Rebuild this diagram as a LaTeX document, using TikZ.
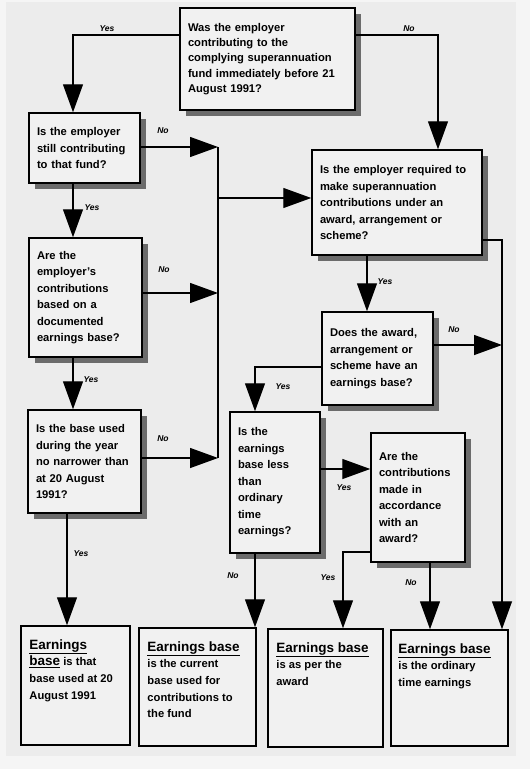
\documentclass[tikz,border=0pt]{standalone}
\usepackage{fontspec}
\setmainfont{Liberation Sans}
\usetikzlibrary{arrows.meta,shadows,calc}
\definecolor{pagebg}{HTML}{ECECEC}
\definecolor{boxbg}{HTML}{F1F1F1}
\newcommand\headsz{\fontsize{13.5}{16.6}\selectfont}
\begin{document}
\begin{tikzpicture}[x=1pt,y=-1pt,
 qbox/.style={draw=black,line width=1.5pt,fill=boxbg,inner xsep=8pt,inner ysep=4pt,align=left,
   font=\bfseries\fontsize{11.2}{16.5}\selectfont,
   general shadow={fill=black!58,shadow xshift=6pt,shadow yshift=-6pt}},
 rbox/.style={draw=black,line width=1.5pt,fill=boxbg,inner sep=0pt},
 rtext/.style={inner sep=0pt,align=left,anchor=north west,font=\bfseries\fontsize{11.2}{16.6}\selectfont},
 lab/.style={font=\bfseries\itshape\fontsize{8.5}{10}\selectfont,inner sep=0pt},
 link/.style={line width=1.3pt},
 arr/.style={link,-{Triangle[length=28pt,width=20pt]}}
]
\fill[white!96!black] (0,0) rectangle (530,769);
\fill[pagebg] (6,2) rectangle (516,756);
\useasboundingbox (0,0) rectangle (530,769);

% question boxes
\node[qbox,text width=159pt,minimum height=102pt,font=\bfseries\fontsize{11.2}{15.3}\selectfont] (Q1) at (267.5,59)
 {Was the employer\\contributing to the\\complying superannuation\\fund immediately before 21\\August 1991?};
\node[qbox,text width=95pt,minimum height=70pt] (Q2) at (84.5,148)
 {Is the employer\\still contributing\\to that fund?};
\node[qbox,text width=97pt,minimum height=119pt] (Q3) at (85.5,297.5)
 {Are the\\employer's\\contributions\\based on a\\documented\\earnings base?};
\node[qbox,text width=97pt,minimum height=103pt] (Q4) at (84.5,461.5)
 {Is the base used\\during the year\\no narrower than\\at 20 August\\1991?};
\node[qbox,text width=154pt,minimum height=105pt] (Q5) at (397,202.5)
 {Is the employer required to\\make superannuation\\contributions under an\\award, arrangement or\\scheme?};
\node[qbox,text width=95pt,minimum height=93pt] (Q6) at (377.5,358.5)
 {Does the award,\\arrangement or\\scheme have an\\earnings base?};
\node[qbox,text width=74pt,minimum height=141pt] (Q7) at (275,482.5)
 {Is the\\earnings\\base less\\than\\ordinary\\time\\earnings?};
\node[qbox,text width=78pt,minimum height=129pt] (Q8) at (418,497.5)
 {Are the\\contributions\\made in\\accordance\\with an\\award?};

% result boxes
\node[rbox,minimum width=109pt,minimum height=119pt] (R1) at (75.5,685.5) {};
\node[rbox,minimum width=117pt,minimum height=118pt] (R2) at (197.5,687) {};
\node[rbox,minimum width=115pt,minimum height=118pt] (R3) at (325.5,688) {};
\node[rbox,minimum width=117pt,minimum height=116pt] (R4) at (449.5,688) {};
\node[rtext] (R1t) at ($(R1.north west)+(9,14)$)
 {\underline{\headsz Earnings}\\\underline{\headsz base} is that\\base used at 20\\August 1991};
\node[rtext] (R2t) at ($(R2.north west)+(9,14)$)
 {\underline{\headsz Earnings base}\\is the current\\base used for\\contributions to\\the fund};
\node[rtext] (R3t) at ($(R3.north west)+(9,14)$)
 {\underline{\headsz Earnings base}\\is as per the\\award};
\node[rtext] (R4t) at ($(R4.north west)+(8,14)$)
 {\underline{\headsz Earnings base}\\is the ordinary\\time earnings};

% helper coordinates
\coordinate (c1) at (73,35);
\coordinate (c2) at (438,35);
\coordinate (t1) at (218,147);
\coordinate (t3) at (218,198);
\coordinate (t4) at (218,293);
\coordinate (t2) at (218,458);
\coordinate (v2) at (67,0);
\coordinate (v5) at (367,0);
\coordinate (e1) at (502,240);
\coordinate (e2) at (502,345);
\coordinate (c6) at (255,367);
\coordinate (c7) at (0,469);
\coordinate (c8) at (343,552);
\coordinate (c9) at (430,0);

% connectors
\draw[arr] (Q1.west |- c1) -| (Q2.north -| c1);
\draw[arr] (Q1.east |- c2) -| (Q5.north -| c2);
\draw[arr] (Q2.east |- t1) -- (t1);
\draw[link] (t1) -- (t2);
\draw[arr] (t3) -- (Q5.west |- t3);
\draw[arr] (Q3.east |- t4) -- (t4);
\draw[arr] (Q4.east |- t2) -- (t2);
\draw[arr] (Q2.south -| c1) -- (Q3.north -| c1);
\draw[arr] (Q3.south -| c1) -- (Q4.north -| c1);
\draw[arr] (Q4.south -| v2) -- (R1.north -| v2);
\draw[arr] (Q5.south -| v5) -- (Q6.north -| v5);
\draw[arr] (Q5.east |- e1) -| (R4.north -| e1);
\draw[arr] (Q6.east |- e2) -- (e2);
\draw[arr] (Q6.west |- c6) -| (Q7.north -| c6);
\draw[arr] (Q7.east |- c7) -- (Q8.west |- c7);
\draw[arr] (Q7.south -| c6) -- (R2.north -| c6);
\draw[arr] (Q8.west |- c8) -| (R3.north -| c8);
\draw[arr] (Q8.south -| c9) -- (R4.north -| c9);

% labels
\node[lab] (l1) at (107,29) {Yes};
\node[lab] (l2) at (409,29) {No};
\node[lab] (l3) at (163,131) {No};
\node[lab] (l4) at (92,208) {Yes};
\node[lab] (l5) at (164,270) {No};
\node[lab] (l6) at (91,380) {Yes};
\node[lab] (l7) at (385,282) {Yes};
\node[lab] (l8) at (454,330) {No};
\node[lab] (l9) at (283,387) {Yes};
\node[lab] (l10) at (163,439) {No};
\node[lab] (l11) at (344,488) {Yes};
\node[lab] (l12) at (81,554) {Yes};
\node[lab] (l13) at (233,576) {No};
\node[lab] (l14) at (328,578) {Yes};
\node[lab] (l15) at (411,583) {No};
\end{tikzpicture}
\end{document}
